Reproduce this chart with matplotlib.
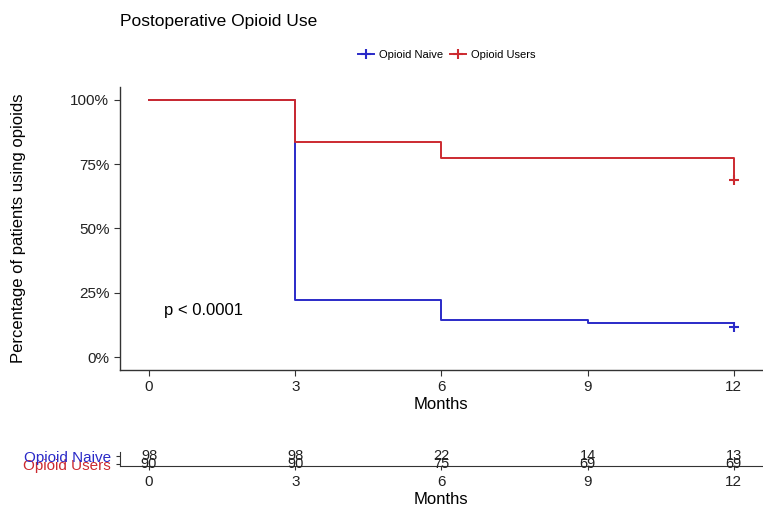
import matplotlib
matplotlib.use('Agg')
import matplotlib.pyplot as plt
from matplotlib.lines import Line2D
from matplotlib.ticker import FuncFormatter

plt.rcParams['font.family'] = ['Liberation Sans', 'DejaVu Sans']

# step survival estimates (time, proportion still using opioids)
months = [0, 3, 6, 9, 12]
naive_t = [0, 3, 6, 9, 12]
naive_s = [1.0, 0.224, 0.143, 0.132, 0.118]
users_t = [0, 3, 6, 12]
users_s = [1.0, 0.837, 0.772, 0.688]

# numbers at risk
naive_risk = [98, 98, 22, 14, 13]
users_risk = [90, 90, 75, 69, 69]

groups = ['Opioid Naive', 'Opioid Users']
blue = '#2a2ac8'
red = '#cc2a30'
spine_c = '#333333'

fig = plt.figure(figsize=(7.63, 5.14), dpi=100)
fig.patch.set_facecolor('white')

# ── main survival plot ──────────────────────────────────────────────
ax = fig.add_axes([0.157, 0.280, 0.843, 0.551])
ax.step(naive_t, naive_s, where='post', color=blue, lw=1.4)
ax.step(users_t, users_s, where='post', color=red, lw=1.4)
ax.plot([12], [naive_s[-1]], marker='+', color=blue, ms=7, mew=1.5)
ax.plot([12], [users_s[-1]], marker='+', color=red, ms=7, mew=1.5)

ax.set_xlim(-0.6, 12.6)
ax.set_ylim(-0.05, 1.05)
ax.set_xticks(months)
ax.set_yticks([0, 0.25, 0.5, 0.75, 1.0])
ax.yaxis.set_major_formatter(FuncFormatter(lambda v, _: f'{int(round(v * 100))}%'))
for s in ['top', 'right']:
    ax.spines[s].set_visible(False)
for s in ['left', 'bottom']:
    ax.spines[s].set_color(spine_c)
    ax.spines[s].set_linewidth(1.0)
ax.tick_params(colors=spine_c, labelcolor='#222222', labelsize=11, length=4)
ax.set_xlabel('Months', fontsize=12, labelpad=2)
ax.set_ylabel('Percentage of patients using opioids', fontsize=12, labelpad=32)
ax.text(0.3, 0.18, 'p < 0.0001', fontsize=12, va='center', ha='left')

fig.text(0.157, 0.958, 'Postoperative Opioid Use', fontsize=12.5, ha='left', va='center')

handles = [Line2D([0], [0], color=blue, marker='+', ms=7, mew=1.5, lw=1.4),
           Line2D([0], [0], color=red, marker='+', ms=7, mew=1.5, lw=1.4)]
fig.legend(handles, groups, loc='center', bbox_to_anchor=(0.585, 0.893), ncol=2,
           frameon=False, fontsize=8, handlelength=1.5, handletextpad=0.4,
           columnspacing=0.6)

# ── risk table ──────────────────────────────────────────────────────
rt = fig.add_axes([0.157, 0.0934, 0.843, 0.0272])
rt.set_xlim(-0.6, 12.6)
rt.set_ylim(0, 2)
for x, a, b in zip(months, naive_risk, users_risk):
    rt.text(x, 1.5, str(a), ha='center', va='center', fontsize=10.5, color='#222222')
    rt.text(x, 0.35, str(b), ha='center', va='center', fontsize=10.5, color='#222222')
rt.set_xticks(months)
rt.set_yticks([0.25, 1.4])
rt.set_yticklabels(groups[::-1])
for s in ['top', 'right']:
    rt.spines[s].set_visible(False)
for s in ['left', 'bottom']:
    rt.spines[s].set_color(spine_c)
rt.tick_params(labelsize=11, length=3, colors=spine_c)
rt.tick_params(axis='x', labelcolor='#222222')
for lbl, c in zip(rt.get_yticklabels(), [red, blue]):
    lbl.set_color(c)
rt.set_xlabel('Months', fontsize=12, labelpad=2)

plt.savefig('out.png', dpi=100, facecolor=fig.get_facecolor())
plt.close()
